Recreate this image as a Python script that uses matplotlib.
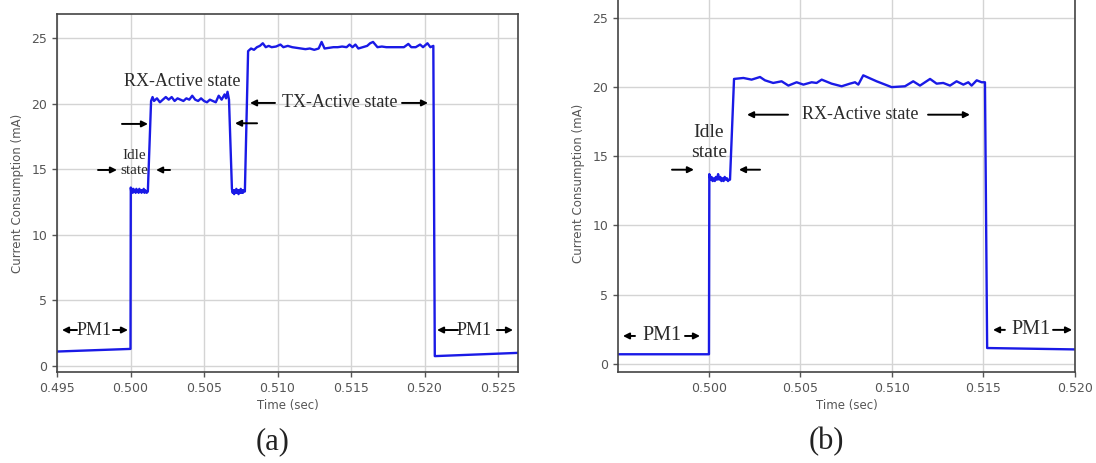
import matplotlib
matplotlib.use("Agg")
import matplotlib.pyplot as plt

# ---------------- data: panel (a) ----------------
t_a = [0.4950, 0.5000, 0.50002,
       0.50005, 0.50010, 0.50015, 0.50020, 0.50025, 0.50030, 0.50035, 0.50040,
       0.50045, 0.50050, 0.50055, 0.50060, 0.50065, 0.50070, 0.50075, 0.50080,
       0.50085, 0.50090, 0.50095, 0.50100, 0.50105, 0.50110, 0.50118,
       0.50140, 0.50150, 0.50160, 0.50180, 0.50200, 0.50220, 0.50240, 0.50260,
       0.50280, 0.50300, 0.50320, 0.50340, 0.50360, 0.50380, 0.50400, 0.50420,
       0.50440, 0.50460, 0.50480, 0.50500, 0.50520, 0.50540, 0.50560, 0.50580,
       0.50600, 0.50620, 0.50640, 0.50650, 0.50660, 0.50670,
       0.50690, 0.50695, 0.50700, 0.50705, 0.50710, 0.50715, 0.50720, 0.50725,
       0.50730, 0.50735, 0.50740, 0.50745, 0.50750, 0.50755, 0.50760, 0.50765,
       0.50770, 0.50778,
       0.50800, 0.50820, 0.50840, 0.50860, 0.50880, 0.50900, 0.50920, 0.50940,
       0.50960, 0.50990, 0.51020, 0.51040, 0.51070, 0.51100, 0.51130, 0.51160,
       0.51190, 0.51220, 0.51250, 0.51280, 0.51300, 0.51320, 0.51350, 0.51380,
       0.51410, 0.51440, 0.51470, 0.51490, 0.51510, 0.51530, 0.51550, 0.51580,
       0.51610, 0.51630, 0.51650, 0.51680, 0.51710, 0.51740, 0.51770, 0.51800,
       0.51830, 0.51860, 0.51890, 0.51910, 0.51940, 0.51970, 0.51990, 0.52020,
       0.52040, 0.52060,
       0.52070, 0.52640]
i_a = [1.1, 1.3, 13.6,
       13.3, 13.5, 13.2, 13.5, 13.3, 13.4, 13.2, 13.5,
       13.3, 13.4, 13.2, 13.5, 13.3, 13.4, 13.2, 13.4,
       13.3, 13.5, 13.2, 13.4, 13.3, 13.2, 13.3,
       20.2, 20.5, 20.2, 20.4, 20.1, 20.3, 20.5, 20.3,
       20.5, 20.2, 20.4, 20.3, 20.2, 20.4, 20.3, 20.6,
       20.3, 20.2, 20.4, 20.2, 20.1, 20.3, 20.2, 20.1,
       20.6, 20.3, 20.7, 20.4, 20.9, 20.3,
       13.5, 13.2, 13.4, 13.1, 13.4, 13.2, 13.5, 13.2,
       13.4, 13.1, 13.4, 13.2, 13.5, 13.2, 13.4, 13.2,
       13.4, 13.3,
       24.0, 24.2, 24.1, 24.3, 24.4, 24.6, 24.3, 24.4,
       24.3, 24.35, 24.5, 24.3, 24.4, 24.3, 24.25, 24.2,
       24.15, 24.2, 24.1, 24.2, 24.7, 24.2, 24.25, 24.3,
       24.3, 24.35, 24.3, 24.5, 24.3, 24.5, 24.2, 24.3,
       24.4, 24.6, 24.7, 24.3, 24.35, 24.3, 24.3, 24.3,
       24.3, 24.3, 24.55, 24.3, 24.3, 24.5, 24.3, 24.6,
       24.3, 24.4,
       0.75, 1.0]

# ---------------- data: panel (b) ----------------
t_b = [0.4951, 0.5000, 0.50002,
       0.50008, 0.50014, 0.50020, 0.50026, 0.50032, 0.50038, 0.50044, 0.50050,
       0.50056, 0.50062, 0.50068, 0.50074, 0.50080, 0.50086, 0.50092, 0.50098,
       0.50104, 0.50110, 0.50115,
       0.50137, 0.50188, 0.50233, 0.50279, 0.50306, 0.50351, 0.50397, 0.50434,
       0.50479, 0.50516, 0.50561, 0.50588, 0.50616, 0.50670, 0.50725, 0.50770,
       0.50798, 0.50816, 0.50843, 0.50916, 0.50998, 0.51071, 0.51116, 0.51153,
       0.51208, 0.51244, 0.51280, 0.51317, 0.51353, 0.51390, 0.51417, 0.51435,
       0.51463, 0.51490, 0.51508,
       0.51520, 0.52000]
i_b = [0.7, 0.7, 13.7,
       13.3, 13.5, 13.2, 13.4, 13.2, 13.5, 13.3, 13.7,
       13.3, 13.5, 13.2, 13.4, 13.2, 13.5, 13.3, 13.4,
       13.2, 13.3, 13.3,
       20.57, 20.64, 20.52, 20.71, 20.47, 20.28, 20.40, 20.09,
       20.33, 20.16, 20.33, 20.28, 20.52, 20.23, 20.04, 20.23,
       20.33, 20.16, 20.83, 20.40, 19.98, 20.04, 20.40, 20.09,
       20.57, 20.23, 20.28, 20.09, 20.40, 20.16, 20.33, 20.09,
       20.47, 20.33, 20.33,
       1.15, 1.05]

xticks_a = [0.495, 0.500, 0.505, 0.510, 0.515, 0.520, 0.525]
xticks_b = [0.500, 0.505, 0.510, 0.515, 0.520]
yticks = [0, 5, 10, 15, 20, 25]

# annotation layout: (text, x, y, fontsize)
texts_a = [("RX-Active state", 0.50350, 21.65, 13),
           ("Idle\nstate", 0.50024, 15.47, 11),
           ("TX-Active state", 0.51422, 20.05, 13),
           ("PM1", 0.49755, 2.74, 13),
           ("PM1", 0.52337, 2.74, 13)]
arrows_a = [(0.49942, 0.50119, 18.45), (0.49779, 0.49908, 14.94),
            (0.50269, 0.50174, 14.94), (0.50861, 0.50711, 18.5),
            (0.50983, 0.50813, 20.05), (0.51847, 0.52024, 20.05),
            (0.49636, 0.49534, 2.74), (0.49881, 0.49983, 2.74),
            (0.52228, 0.52085, 2.74), (0.52493, 0.52602, 2.74)]
texts_b = [("PM1", 0.49746, 2.02, 14.5),
           ("Idle\nstate", 0.50000, 15.97, 14),
           ("RX-Active state", 0.50828, 17.99, 13),
           ("PM1", 0.51762, 2.46, 14.5)]
arrows_b = [(0.49596, 0.49530, 2.02), (0.49869, 0.49951, 2.02),
            (0.49798, 0.49918, 14.02), (0.50279, 0.50164, 14.02),
            (0.50432, 0.50208, 17.99), (0.51197, 0.51426, 17.99),
            (0.51617, 0.51552, 2.46), (0.51880, 0.51984, 2.46)]

W, H = 1096, 463
fig = plt.figure(figsize=(W / 100, H / 100), dpi=100)
fig.patch.set_facecolor("white")

def px_axes(l, r, t, b):
    return fig.add_axes([l / W, 1 - b / H, (r - l) / W, (b - t) / H])

ax_a = px_axes(57, 518, 14, 372)
ax_b = px_axes(618, 1075, -6, 372)

serif = ["Liberation Serif", "DejaVu Serif"]
tick_col = "#555555"

def style(ax, xt, xlim, ylim):
    ax.set_xlim(*xlim)
    ax.set_ylim(*ylim)
    ax.set_xticks(xt)
    ax.set_xticklabels([f"{v:.3f}" for v in xt])
    ax.set_yticks(yticks)
    ax.grid(True, color="#d4d4d4", lw=1.0)
    ax.set_axisbelow(True)
    for s in ax.spines.values():
        s.set_color("#444444")
        s.set_linewidth(1.2)
    ax.tick_params(labelsize=9, colors=tick_col, labelcolor=tick_col,
                   length=3.5, width=1)
    ax.set_xlabel("Time (sec)", fontsize=8.5, color=tick_col, labelpad=3)
    ax.set_ylabel("Current Consumption (mA)", fontsize=8.5, color=tick_col,
                  labelpad=5)

def annotate(ax, texts, arrows):
    for s, x, y, fs in texts:
        ax.text(x, y, s, ha="center", va="center", fontsize=fs,
                family=serif, color="#2a2a2a", linespacing=1.25)
    for x0, x1, y in arrows:
        ax.annotate("", xy=(x1, y), xytext=(x0, y),
                    arrowprops=dict(arrowstyle="-|>", color="black", lw=1.4,
                                    mutation_scale=9, shrinkA=0, shrinkB=0))

ax_a.plot(t_a, i_a, color="#1a1ae6", lw=1.7)
style(ax_a, xticks_a, (0.4950, 0.52636), (-0.46, 26.83))
annotate(ax_a, texts_a, arrows_a)

ax_b.plot(t_b, i_b, color="#1a1ae6", lw=1.7)
style(ax_b, xticks_b, (0.49503, 0.5200), (-0.58, 26.7))
ax_b.spines["top"].set_visible(False)
annotate(ax_b, texts_b, arrows_b)

fig.text(273 / W, 1 - 442 / H, "(a)", ha="center", va="center",
         fontsize=22, family=serif, color="#222222")
fig.text(826 / W, 1 - 442 / H, "(b)", ha="center", va="center",
         fontsize=22, family=serif, color="#222222")

fig.savefig("out.png", dpi=100, facecolor="white")
